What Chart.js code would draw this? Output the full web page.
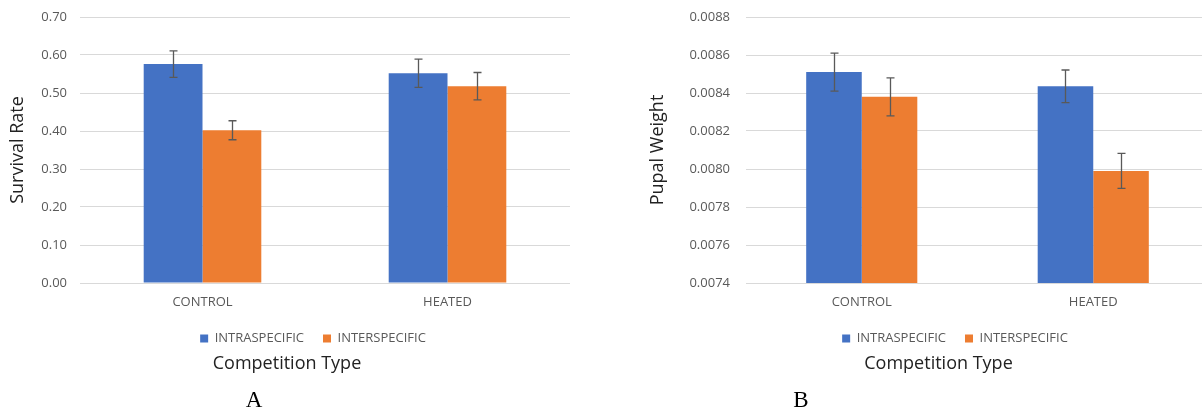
<!DOCTYPE html>
<html>
<head>
<meta charset="utf-8">
<script src="https://cdn.jsdelivr.net/npm/chart.js@4.4.1/dist/chart.umd.min.js"></script>
<style>
  html, body { margin: 0; padding: 0; background: #ffffff; }
  body { width: 1202px; height: 412px; overflow: hidden; position: relative; }
  canvas { position: absolute; top: 0; }
  #chartA { left: 0; }
  #chartB { left: 640px; }
</style>
</head>
<body>
<canvas id="chartA" width="600" height="412"></canvas>
<canvas id="chartB" width="600" height="412"></canvas>
<script>
// Treatments and competition series
const categories = ['CONTROL', 'HEATED'];
const seriesNames = ['INTRASPECIFIC', 'INTERSPECIFIC'];

// Panel A: survival rate (mean and error)
const survivalIntra = [0.576, 0.552];
const survivalIntraErr = [0.035, 0.037];
const survivalInter = [0.402, 0.518];
const survivalInterErr = [0.025, 0.036];
const survivalTicks = [0.00, 0.10, 0.20, 0.30, 0.40, 0.50, 0.60, 0.70];

// Panel B: pupal weight (mean and error)
const weightIntra = [0.00851, 0.008435];
const weightIntraErr = [0.0001, 0.000086];
const weightInter = [0.00838, 0.00799];
const weightInterErr = [0.0001, 0.000092];
const weightTicks = [0.0074, 0.0076, 0.0078, 0.0080, 0.0082, 0.0084, 0.0086, 0.0088];

const BLUE = '#4472C4';
const ORANGE = '#ED7D31';
const GRID = '#D9D9D9';
const TICK_COLOR = '#595959';
const TITLE_COLOR = '#222222';
const SANS = '"Open Sans", "Noto Sans", sans-serif';
const SERIF = '"Liberation Serif", "DejaVu Serif", serif';

// Draws +/- error whiskers on top of each bar
const errorBars = {
  id: 'errorBars',
  afterDatasetsDraw(chart, args, opts) {
    const ctx = chart.ctx;
    const yScale = chart.scales.y;
    chart.data.datasets.forEach((ds, i) => {
      const meta = chart.getDatasetMeta(i);
      if (!ds.errors || meta.hidden) return;
      meta.data.forEach((bar, j) => {
        const v = ds.data[j];
        const e = ds.errors[j];
        const yTop = yScale.getPixelForValue(v + e);
        const yBot = yScale.getPixelForValue(v - e);
        const x = Math.round(bar.x) + 0.5;
        ctx.save();
        ctx.strokeStyle = opts.color;
        ctx.lineWidth = opts.width;
        ctx.beginPath();
        ctx.moveTo(x, yTop); ctx.lineTo(x, yBot);
        ctx.moveTo(x - opts.cap, yTop); ctx.lineTo(x + opts.cap, yTop);
        ctx.moveTo(x - opts.cap, yBot); ctx.lineTo(x + opts.cap, yBot);
        ctx.stroke();
        ctx.restore();
      });
    });
  }
};

// Re-centres the legend, subtitle and title blocks horizontally
const blockCentres = {
  id: 'blockCentres',
  afterLayout(chart, args, opts) {
    const centre = (box, cx) => {
      if (!box || cx == null) return;
      const w = box.right - box.left;
      box.left = cx - w / 2;
      box.right = cx + w / 2;
    };
    centre(chart.legend, opts.legend);
    centre(chart.titleBlock, opts.title);
    const subText = chart.options.plugins.subtitle.text;
    const sub = chart.boxes.find(b => b !== chart.titleBlock && b !== chart.legend &&
      b.options && b.options.text === subText && typeof b.options.text === 'string');
    centre(sub, opts.subtitle);
  }
};

function makeChart(id, cfg) {
  return new Chart(document.getElementById(id), {
    type: 'bar',
    data: {
      labels: categories,
      datasets: [
        { label: seriesNames[0], data: cfg.intra, errors: cfg.intraErr, backgroundColor: BLUE, borderWidth: 0 },
        { label: seriesNames[1], data: cfg.inter, errors: cfg.interErr, backgroundColor: ORANGE, borderWidth: 0 }
      ]
    },
    options: {
      responsive: false,
      animation: false,
      devicePixelRatio: 1,
      categoryPercentage: 0.48,
      barPercentage: 1.0,
      layout: { padding: { top: 17, right: cfg.padRight, bottom: 0, left: 0 } },
      scales: {
        x: {
          grid: { display: false, drawTicks: false },
          border: { display: false },
          ticks: { color: TICK_COLOR, font: { family: SANS, size: 13 }, padding: 11 },
          afterFit: (axis) => { axis.height = 30; }
        },
        y: {
          min: cfg.ticks[0],
          max: cfg.ticks[cfg.ticks.length - 1],
          afterBuildTicks: (axis) => { axis.ticks = cfg.ticks.map(v => ({ value: v })); },
          grid: { color: GRID, lineWidth: 1, drawTicks: false },
          border: { display: false },
          ticks: {
            color: TICK_COLOR,
            font: { family: SANS, size: 13 },
            padding: cfg.tickPad,
            callback: (v) => Number(v).toFixed(cfg.decimals)
          },
          title: {
            display: true,
            text: cfg.yTitle,
            color: TITLE_COLOR,
            font: { family: SANS, size: 18 },
            padding: { top: 7, bottom: 0 }
          },
          afterFit: (axis) => {
            axis.width = cfg.yWidth;
            axis.paddingTop = 0;
            axis.paddingBottom = 0;
          }
        }
      },
      plugins: {
        legend: {
          position: 'bottom',
          labels: {
            boxWidth: 8,
            boxHeight: 8,
            padding: 19,
            color: TICK_COLOR,
            font: { family: SANS, size: 13 }
          }
        },
        subtitle: {
          display: true,
          position: 'bottom',
          text: 'Competition Type',
          color: TITLE_COLOR,
          font: { family: SANS, size: 18, lineHeight: 1 },
          padding: { top: 0, bottom: 16 }
        },
        title: {
          display: true,
          position: 'bottom',
          text: cfg.letter,
          color: '#000000',
          font: { family: SERIF, size: 23, weight: 'normal', lineHeight: 1 },
          padding: { top: 0, bottom: 0 }
        },
        tooltip: { enabled: false },
        errorBars: { color: '#595959', width: 1.3, cap: 4 },
        blockCentres: cfg.centres
      }
    },
    plugins: [errorBars, blockCentres]
  });
}

makeChart('chartA', {
  intra: survivalIntra, intraErr: survivalIntraErr,
  inter: survivalInter, interErr: survivalInterErr,
  ticks: survivalTicks, decimals: 2,
  yTitle: 'Survival Rate', letter: 'A',
  yWidth: 80, tickPad: 13, padRight: 30,
  centres: { legend: 313, subtitle: 287, title: 254 }
});

makeChart('chartB', {
  intra: weightIntra, intraErr: weightIntraErr,
  inter: weightInter, interErr: weightInterErr,
  ticks: weightTicks, decimals: 4,
  yTitle: 'Pupal Weight', letter: 'B',
  yWidth: 106, tickPad: 16, padRight: 31,
  centres: { legend: 315, subtitle: 298.5, title: 161 }
});
</script>
</body>
</html>
